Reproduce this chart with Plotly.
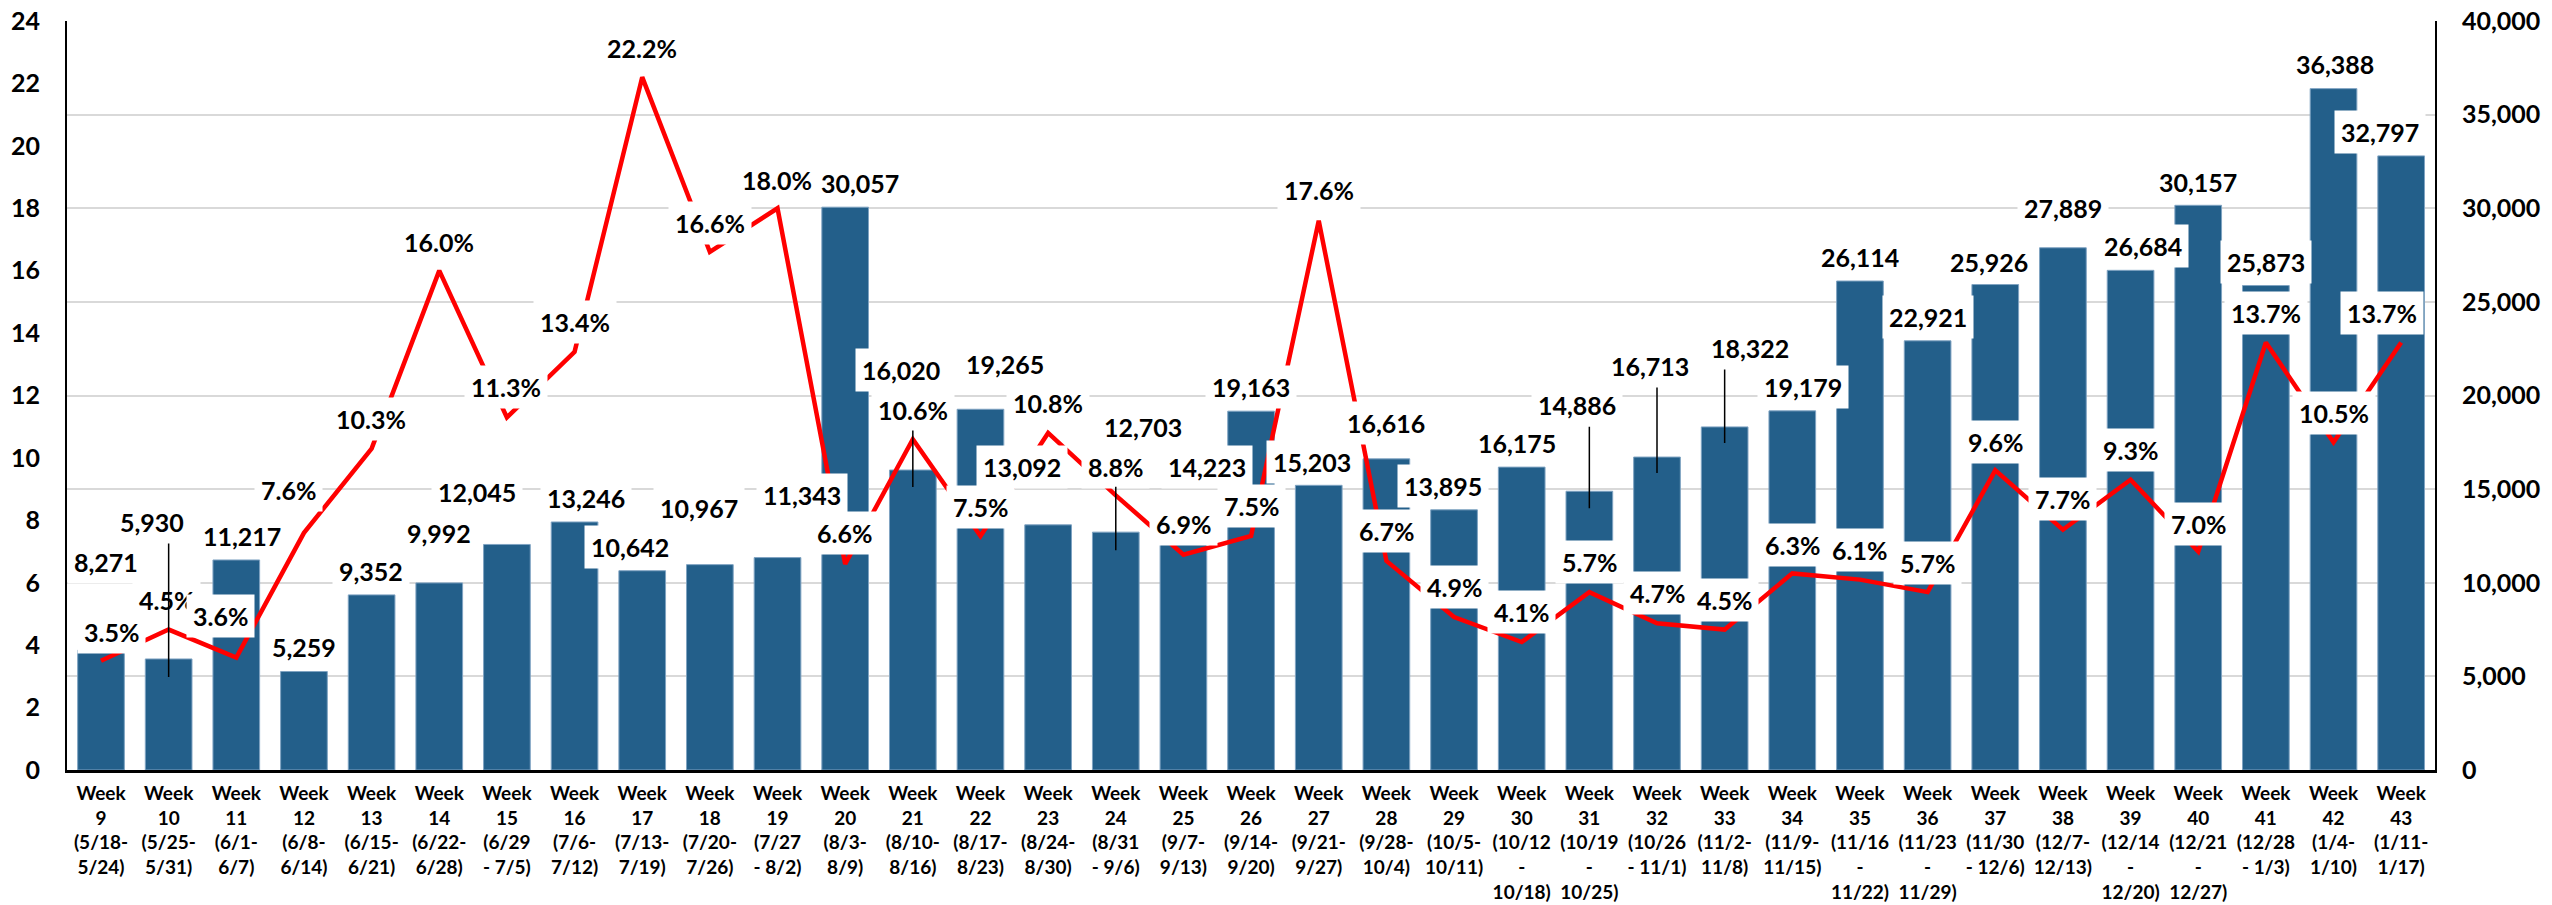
import plotly.graph_objects as go

# ---------------- data ----------------
tick_labels = [
    "Week<br>9<br>(5/18-<br>5/24)",
    "Week<br>10<br>(5/25-<br>5/31)",
    "Week<br>11<br>(6/1-<br>6/7)",
    "Week<br>12<br>(6/8-<br>6/14)",
    "Week<br>13<br>(6/15-<br>6/21)",
    "Week<br>14<br>(6/22-<br>6/28)",
    "Week<br>15<br>(6/29<br>- 7/5)",
    "Week<br>16<br>(7/6-<br>7/12)",
    "Week<br>17<br>(7/13-<br>7/19)",
    "Week<br>18<br>(7/20-<br>7/26)",
    "Week<br>19<br>(7/27<br>- 8/2)",
    "Week<br>20<br>(8/3-<br>8/9)",
    "Week<br>21<br>(8/10-<br>8/16)",
    "Week<br>22<br>(8/17-<br>8/23)",
    "Week<br>23<br>(8/24-<br>8/30)",
    "Week<br>24<br>(8/31<br>- 9/6)",
    "Week<br>25<br>(9/7-<br>9/13)",
    "Week<br>26<br>(9/14-<br>9/20)",
    "Week<br>27<br>(9/21-<br>9/27)",
    "Week<br>28<br>(9/28-<br>10/4)",
    "Week<br>29<br>(10/5-<br>10/11)",
    "Week<br>30<br>(10/12<br>-<br>10/18)",
    "Week<br>31<br>(10/19<br>-<br>10/25)",
    "Week<br>32<br>(10/26<br>- 11/1)",
    "Week<br>33<br>(11/2-<br>11/8)",
    "Week<br>34<br>(11/9-<br>11/15)",
    "Week<br>35<br>(11/16<br>-<br>11/22)",
    "Week<br>36<br>(11/23<br>-<br>11/29)",
    "Week<br>37<br>(11/30<br>- 12/6)",
    "Week<br>38<br>(12/7-<br>12/13)",
    "Week<br>39<br>(12/14<br>-<br>12/20)",
    "Week<br>40<br>(12/21<br>-<br>12/27)",
    "Week<br>41<br>(12/28<br>- 1/3)",
    "Week<br>42<br>(1/4-<br>1/10)",
    "Week<br>43<br>(1/11-<br>1/17)",
]

# bar heights as drawn (right axis)
bar_values = [6400, 5930, 11217, 5259, 9352, 9992, 12045, 13246, 10642, 10967,
              11343, 30057, 16020, 19265, 13092, 12703, 14223, 19163, 15203, 16616,
              13895, 16175, 14886, 16713, 18322, 19179, 26114, 22921, 25926, 27889,
              26684, 30157, 25873, 36388, 32797]

# printed bar labels
bar_labels = ["8,271", "5,930", "11,217", "5,259", "9,352", "9,992", "12,045", "13,246",
              "10,642", "10,967", "11,343", "30,057", "16,020", "19,265", "13,092",
              "12,703", "14,223", "19,163", "15,203", "16,616", "13,895", "16,175",
              "14,886", "16,713", "18,322", "19,179", "26,114", "22,921", "25,926",
              "27,889", "26,684", "30,157", "25,873", "36,388", "32,797"]

# positivity (%) on left axis
positivity = [3.5, 4.5, 3.6, 7.6, 10.3, 16.0, 11.3, 13.4, 22.2, 16.6,
              18.0, 6.6, 10.6, 7.5, 10.8, 8.8, 6.9, 7.5, 17.6, 6.7,
              4.9, 4.1, 5.7, 4.7, 4.5, 6.3, 6.1, 5.7, 9.6, 7.7,
              9.3, 7.0, 13.7, 10.5, 13.7]

# ---------------- label placement (pixel offsets) ----------------
bar_dx = [5, -17, 6, 0, -1, 0, -30, 11, -12, -11, 24, 15, -12, 25, -26, 27, 24, 0, -7, 0,
          -11, -5, -12, -7, 25, 11, 0, 0, -6, 0, 12, 0, 0, 1, -21]
bar_dy = [88, 137, 24, 25, 24, 50, 52, 24, 24, 57, 63, 24, 100, 45, 58, 105, 37, 24, 23, 36,
          24, 24, 86, 91, 79, 24, 24, 24, 23, 40, 24, 23, 24, 25, 24]
pct_dx = [10, -2, -16, -15, -1, 0, -1, 0, 0, 0, -1, -1, 0, 0, 0, 0, 0, 0, 0, 0,
          0, 0, 0, 0, 0, 0, 0, 0, 0, 0, 0, 0, 0, 0, -19]
pct_dy = [29, 30, 42, 43, 30, 29, 30, 30, 29, 29, 28, 31, 29, 29, 30, 28, 31, 30, 31, 30,
          30, 30, 30, 30, 30, 28, 30, 29, 28, 31, 30, 28, 29, 29, 29]
# leader lines: (category index, length px, shift below bar top px)
leaders = [(1, 135, 18), (12, 58, 17), (15, 65, 18), (22, 83, 17), (23, 87, 16), (24, 75, 16)]

FONT = "Lato, 'Liberation Sans', Arial, sans-serif"
BAR_COLOR = "#235F8A"
LABEL_SIZE = 25

fig = go.Figure()
fig.add_trace(go.Bar(
    x=tick_labels, y=bar_values, yaxis="y",
    marker=dict(color=BAR_COLOR, line=dict(color="#7FA3C2", width=1)),
    hoverinfo="skip",
))
fig.add_trace(go.Scatter(
    x=tick_labels, y=positivity, yaxis="y2", mode="lines",
    line=dict(color="#FF0000", width=4.5),
    hoverinfo="skip",
))

annotations = []
for i, (x, v) in enumerate(zip(tick_labels, bar_values)):
    annotations.append(dict(
        x=x, y=v, xref="x", yref="y", text=bar_labels[i], showarrow=False,
        xanchor="center", yanchor="middle", xshift=bar_dx[i], yshift=bar_dy[i],
        bgcolor="white", borderpad=6,
        font=dict(family=FONT, size=LABEL_SIZE, color="black", weight="bold"),
    ))
for i, (x, p) in enumerate(zip(tick_labels, positivity)):
    annotations.append(dict(
        x=x, y=p, xref="x", yref="y2", text=f"{p:.1f}%", showarrow=False,
        xanchor="center", yanchor="middle", xshift=pct_dx[i], yshift=pct_dy[i],
        bgcolor="white", borderpad=6,
        font=dict(family=FONT, size=LABEL_SIZE, color="black", weight="bold"),
    ))
for idx, length, below in leaders:
    annotations.append(dict(
        x=tick_labels[idx], y=bar_values[idx], xref="x", yref="y", text="",
        showarrow=True, arrowhead=0, arrowwidth=1.5, arrowcolor="black",
        ax=0, ay=-length, yshift=-below,
    ))

fig.update_layout(
    width=2552, height=905,
    margin=dict(l=67, r=117, t=21, b=135),
    paper_bgcolor="white", plot_bgcolor="white",
    showlegend=False, bargap=0.31,
    annotations=annotations,
    xaxis=dict(
        type="category", showline=True, linecolor="black", linewidth=3,
        ticks="", tickangle=0, showgrid=False, automargin=False,
        tickfont=dict(family=FONT, size=19, color="black", weight="bold"),
        ticklabelstandoff=4,
    ),
    yaxis=dict(
        side="right", range=[0, 40000], dtick=5000, tickformat=",",
        showgrid=True, gridcolor="#D9D9D9", gridwidth=2, automargin=False,
        showline=True, linecolor="black", linewidth=2, zeroline=False,
        ticks="", ticklabelstandoff=20,
        tickfont=dict(family=FONT, size=LABEL_SIZE, color="black", weight="bold"),
    ),
    yaxis2=dict(
        overlaying="y", side="left", range=[0, 24], dtick=2, automargin=False,
        showgrid=False, showline=True, linecolor="black", linewidth=2, zeroline=False,
        ticks="", ticklabelstandoff=20,
        tickfont=dict(family=FONT, size=LABEL_SIZE, color="black", weight="bold"),
    ),
)

fig.write_html(
    "out.html",
    config={"displayModeBar": False},
    post_script="document.body.style.margin='0';document.body.style.overflow='hidden';",
)
